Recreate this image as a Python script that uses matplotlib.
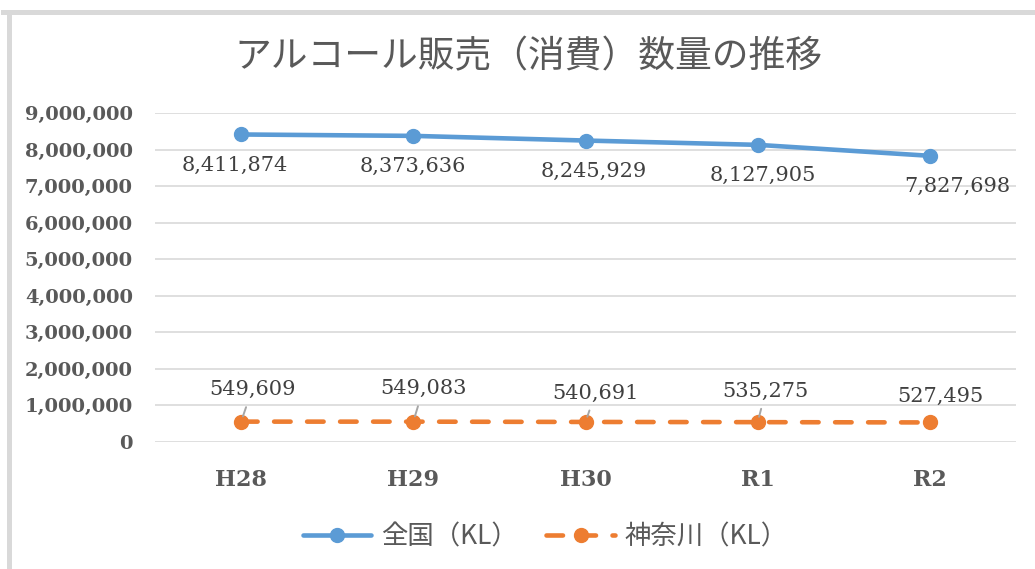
import matplotlib.pyplot as plt
from matplotlib.lines import Line2D
from matplotlib.ticker import FuncFormatter

years = ["H28", "H29", "H30", "R1", "R2"]
zenkoku = [8411874, 8373636, 8245929, 8127905, 7827698]
kanagawa = [549609, 549083, 540691, 535275, 527495]
series_names = ["全国（KL）", "神奈川（KL）"]
title = "アルコール販売（消費）数量の推移"

blue = "#5B9BD5"
orange = "#ED7D31"
grey_txt = "#595959"
cjk = ["Noto Sans CJK JP", "DejaVu Sans"]

plt.rcParams["font.family"] = ["DejaVu Serif"]

fig = plt.figure(figsize=(10.35, 5.69), dpi=100)
ax = fig.add_axes([155 / 1035, 1 - 441.7 / 569, 861 / 1035, 328.7 / 569])

# outer chart frame (top + left edges visible)
fig.add_artist(Line2D([3 / 1035, 1], [1 - 11.5 / 569] * 2, color="#D9D9D9", lw=3.6,
                      transform=fig.transFigure))
fig.add_artist(Line2D([9 / 1035] * 2, [0, 1 - 11.5 / 569], color="#D9D9D9", lw=3.6,
                      transform=fig.transFigure))

x = list(range(len(years)))
ax.plot(x, zenkoku, color=blue, lw=3.3, marker="o", ms=10, solid_capstyle="round",
        label=series_names[0], zorder=3)
ax.plot(x, kanagawa, color=orange, lw=3.3, marker="o", ms=10, ls=(0, (3.6, 3.6)),
        dash_capstyle="round", label=series_names[1], zorder=3)

ax.set_xlim(-0.5, len(years) - 0.5)
ax.set_ylim(0, 9000000)
ax.set_yticks(range(0, 9000001, 1000000))
ax.yaxis.set_major_formatter(FuncFormatter(lambda v, p: f"{int(v):,}"))
ax.set_xticks(x)
ax.set_xticklabels(years)
ax.grid(axis="y", color="#D9D9D9", lw=1.2)
ax.set_axisbelow(True)
for s in ax.spines.values():
    s.set_visible(False)
ax.tick_params(length=0, colors=grey_txt)
ax.tick_params(axis="y", pad=16, labelsize=14)
ax.tick_params(axis="x", pad=20, labelsize=16)
for lab in ax.get_xticklabels() + ax.get_yticklabels():
    lab.set_fontweight("bold")

# data labels
blue_dx = [-6, 0, 8, 5, 27]
for i, v in enumerate(zenkoku):
    ax.annotate(f"{v:,}", (i, v), xytext=(blue_dx[i] * 0.72, -31 * 0.72),
                textcoords="offset points", ha="center", va="center",
                family="DejaVu Serif", fontsize=15, color="#404040")

orange_dx = [11, 10, 10, 8, 10]
orange_dy = [32, 33, 29, 31, 26]
for i, v in enumerate(kanagawa):
    arrow = None
    if i < len(kanagawa) - 1:
        arrow = dict(arrowstyle="-", color="#A6A6A6", lw=1.4, shrinkA=4, shrinkB=4)
    ax.annotate(f"{v:,}", (i, v), xytext=(orange_dx[i] * 0.72, orange_dy[i] * 0.72),
                textcoords="offset points", ha="center", va="center",
                family="DejaVu Serif", fontsize=15, color="#404040",
                arrowprops=arrow)

fig.text(528 / 1035, 1 - 57 / 569, title, ha="center", va="center",
         fontsize=26.5, color=grey_txt, family=cjk)

leg = fig.legend(loc="center", bbox_to_anchor=(545 / 1035, 1 - 537 / 569),
                 ncol=2, frameon=False, handlelength=2.6, handletextpad=0.35,
                 columnspacing=1.1, prop={"family": cjk, "size": 19})
for t in leg.get_texts():
    t.set_color(grey_txt)

fig.savefig("out.png", dpi=100, facecolor="white")
